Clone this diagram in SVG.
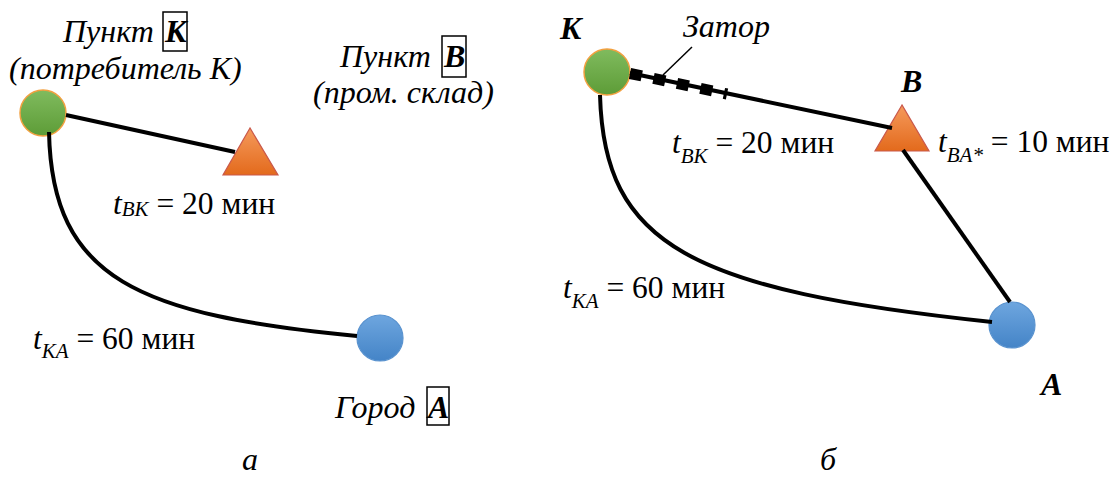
<svg xmlns="http://www.w3.org/2000/svg" width="1114" height="493" viewBox="0 0 1114 493" font-family="Liberation Serif, serif">
<style>
.lbl{font-family:"Liberation Serif",serif;font-size:32px;font-style:italic;}
.bi{font-family:"Liberation Serif",serif;font-size:32px;font-style:italic;font-weight:bold;}
.m{font-family:"Liberation Serif",serif;font-size:31.5px;}
.i{font-style:italic;}
.sub{font-size:21px;font-style:italic;}
.edge{fill:none;stroke:#000;stroke-width:4;}
.box{fill:none;stroke:#000;stroke-width:1.5;}
.g{fill:url(#gG);stroke:#F2A040;stroke-width:1.5;}
.o{fill:url(#gO);stroke:#C9584A;stroke-width:1.2;}
.b{fill:url(#gB);stroke:#5A93CF;stroke-width:1.2;}
</style>
<defs>
<linearGradient id="gG" x1="0" y1="0" x2="0" y2="1"><stop offset="0" stop-color="#80BB5E"/><stop offset="1" stop-color="#5D9C37"/></linearGradient>
<linearGradient id="gO" x1="0" y1="0" x2="0" y2="1"><stop offset="0" stop-color="#F59A5C"/><stop offset="1" stop-color="#E36A1C"/></linearGradient>
<linearGradient id="gB" x1="0" y1="0" x2="0" y2="1"><stop offset="0" stop-color="#6EA6DF"/><stop offset="1" stop-color="#4484C7"/></linearGradient>
</defs>

<!-- Panel a nodes -->
<g id="a-K">
<circle class="g" cx="43" cy="113" r="23"/>
<text class="lbl" x="63" y="42">Пункт</text>
<rect class="box" x="163" y="12" width="24" height="39"/>
<text class="bi" x="165" y="42">К</text>
<text class="lbl" x="9" y="79">(потребитель К)</text>
</g>
<g id="a-B">
<polygon class="o" points="250,128 223,175 278,175"/>
<text class="lbl" x="340" y="67">Пункт</text>
<rect class="box" x="442" y="36" width="24" height="41"/>
<text class="bi" x="444" y="67">В</text>
<text class="lbl" x="313" y="103">(пром. склад)</text>
</g>
<g id="a-A">
<circle class="b" cx="380" cy="338" r="23"/>
<text class="lbl" x="335" y="418">Город</text>
<rect class="box" x="427" y="387" width="22" height="38"/>
<text class="bi" x="428" y="418">А</text>
</g>

<!-- Panel b nodes -->
<g id="b-K">
<circle class="g" cx="607" cy="72" r="23"/>
<text class="bi" x="560" y="39">K</text>
</g>
<g id="b-B">
<polygon class="o" points="902,105 875,151 929,151"/>
<text class="bi" x="901" y="92">B</text>
</g>
<g id="b-A">
<circle class="b" cx="1012" cy="325" r="23"/>
<text class="bi" x="1041" y="395">A</text>
</g>

<!-- Connectors -->
<g id="connectors">
<line class="edge" x1="66" y1="115" x2="235" y2="152"/>
<path class="edge" d="M49,132 C52,280 140,315 357,336"/>
<line class="edge" x1="630" y1="73" x2="892" y2="128"/>
<path d="M630,73.5 L727,94" fill="none" stroke="#000" stroke-width="11" stroke-dasharray="12 12"/>
<line x1="692" y1="47" x2="663" y2="75" stroke="#000" stroke-width="1.5"/>
<line class="edge" x1="903" y1="150" x2="1010" y2="302"/>
<path class="edge" d="M600,95 C604,245 690,290 992,322"/>
</g>

<!-- Labels -->
<g id="labels">
<text class="m" x="113" y="214"><tspan class="i">t</tspan><tspan class="sub" dy="2">BK</tspan><tspan dy="-2"> = 20 мин</tspan></text>
<text class="m" x="33" y="349"><tspan class="i">t</tspan><tspan class="sub" dy="9">KA</tspan><tspan dy="-9"> = 60 мин</tspan></text>
<text class="lbl" x="683" y="37">Затор</text>
<text class="m" x="672" y="153"><tspan class="i">t</tspan><tspan class="sub" dy="10">BK</tspan><tspan dy="-10"> = 20 мин</tspan></text>
<text class="m" x="938" y="152"><tspan class="i">t</tspan><tspan class="sub" dy="10">BA*</tspan><tspan dy="-10"> = 10 мин</tspan></text>
<text class="m" x="563" y="298"><tspan class="i">t</tspan><tspan class="sub" dy="10">KA</tspan><tspan dy="-10"> = 60 мин</tspan></text>
<text class="lbl" x="242" y="470">а</text>
<text class="lbl" x="820" y="470">б</text>
</g>
</svg>
